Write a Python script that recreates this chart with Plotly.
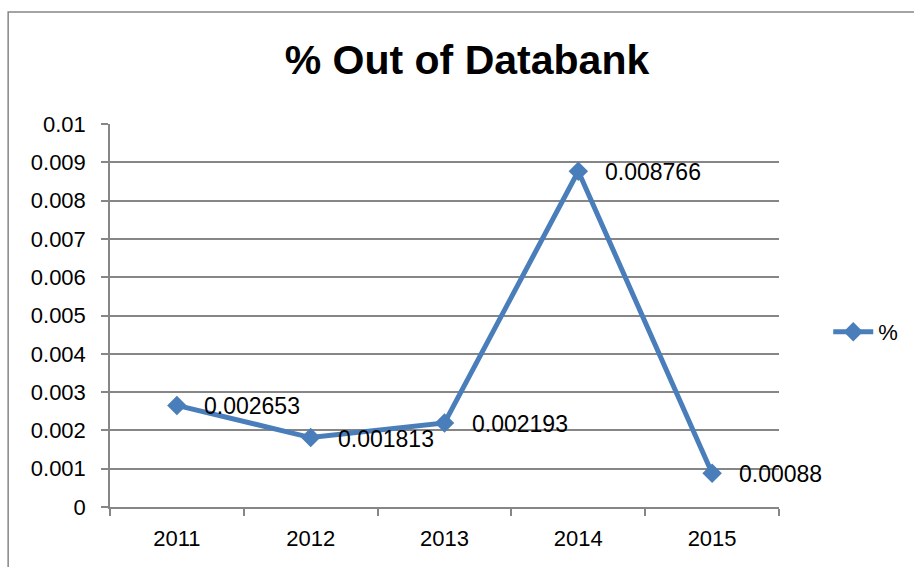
import plotly.graph_objects as go

years = ["2011", "2012", "2013", "2014", "2015"]
values = [0.002653, 0.001813, 0.002193, 0.008766, 0.00088]
labels = ["0.002653", "0.001813", "0.002193", "0.008766", "0.00088"]
y_ticks = [0, 0.001, 0.002, 0.003, 0.004, 0.005, 0.006, 0.007, 0.008, 0.009, 0.01]
y_tick_text = ["0", "0.001", "0.002", "0.003", "0.004", "0.005", "0.006", "0.007", "0.008", "0.009", "0.01"]
series_name = "%"
title_text = "% Out of Databank"

BLUE = "#4a7ebb"
GRAY = "#868686"
FONT = "Liberation Sans"

fig = go.Figure()
fig.add_trace(go.Scatter(
    x=years, y=values, name=series_name, mode="lines+markers",
    line=dict(color=BLUE, width=5),
    marker=dict(symbol="diamond", size=15, color=BLUE),
))

for i, (y, t) in enumerate(zip(values, labels)):
    fig.add_annotation(x=i, y=y, text=t, showarrow=False, xanchor="left",
                       yanchor="middle", xshift=25, yshift=-1,
                       font=dict(family=FONT, size=23, color="black"))

fig.add_shape(type="rect", xref="paper", yref="paper",
              x0=(8 - 110) / 670, x1=2.0, y0=-1.0, y1=(507 - 12) / 383,
              line=dict(color=GRAY, width=1.5), fillcolor="rgba(0,0,0,0)",
              layer="below")

fig.update_layout(
    width=914, height=567,
    margin=dict(l=110, r=134, t=124, b=60),
    paper_bgcolor="white", plot_bgcolor="white",
    title=dict(text="<b>" + title_text + "</b>", x=467 / 914, xanchor="center",
               y=1 - 60 / 567, yanchor="middle", xref="container", yref="container",
               font=dict(family=FONT, size=41, color="black")),
    showlegend=True,
    legend=dict(x=1.072, y=0.457, xanchor="left", yanchor="middle",
                font=dict(family=FONT, size=22, color="black"),
                bgcolor="rgba(0,0,0,0)", itemwidth=40),
    xaxis=dict(type="category", range=[-0.5, 4.5], showgrid=False,
               showline=True, linecolor=GRAY, linewidth=1.5,
               ticks="outside", tickson="boundaries", ticklen=7,
               tickcolor=GRAY, tickwidth=1.5,
               tickfont=dict(family=FONT, size=22, color="black"),
               ticklabelstandoff=11, fixedrange=True),
    yaxis=dict(range=[0, 0.01], tickvals=y_ticks, ticktext=y_tick_text,
               showgrid=True, gridcolor=GRAY, gridwidth=1.5,
               showline=True, linecolor=GRAY, linewidth=1.5,
               ticks="outside", ticklen=7, tickcolor=GRAY, tickwidth=1.5,
               tickfont=dict(family=FONT, size=22, color="black"),
               ticklabelstandoff=11, zeroline=False, fixedrange=True),
)

fig.write_html("out.html", config={"displayModeBar": False},
               post_script="document.body.style.margin='0';")
